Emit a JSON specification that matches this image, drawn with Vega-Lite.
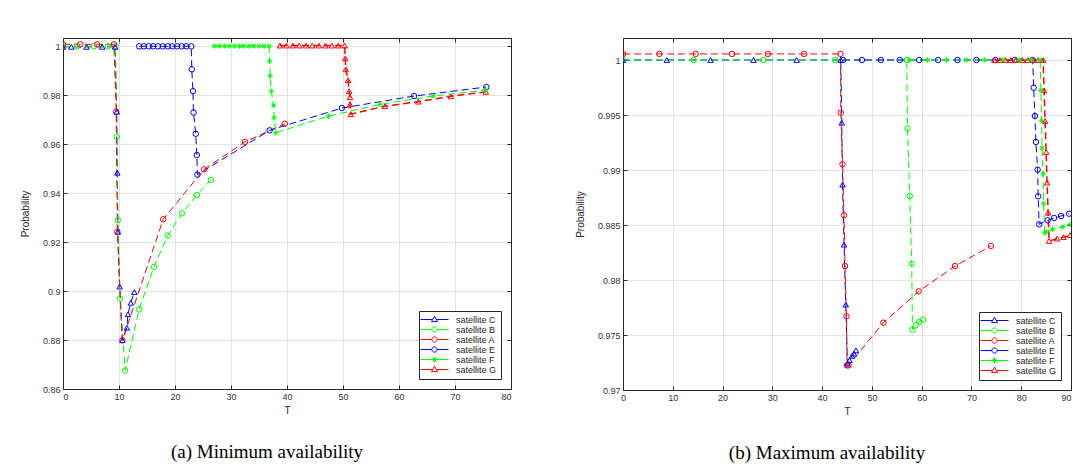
{
  "$schema": "https://vega.github.io/schema/vega-lite/v6.json",
  "background": "white",
  "padding": {"left": 19, "top": 37, "right": 0, "bottom": 0},
  "spacing": 62,
  "config": {
    "view": {"stroke": "#262626", "strokeWidth": 1},
    "axis": {"gridColor": "#e2e2e2", "gridWidth": 1, "domainColor": "#262626", "tickColor": "#262626", "tickSize": -4, "labelFont": "Liberation Sans", "labelFontSize": 9, "labelColor": "#333333", "titleFont": "Liberation Sans", "titleFontSize": 10, "titleFontWeight": "normal", "titleColor": "#262626"},
    "legend": {"title": null, "orient": "bottom-right", "offset": 10, "padding": 4, "strokeColor": "#262626", "fillColor": "#ffffff", "labelFont": "Liberation Sans", "labelFontSize": 9, "labelColor": "#262626", "symbolSize": 49, "symbolOffset": 7, "labelOffset": 17, "rowPadding": -1, "symbolStrokeWidth": 1, "symbolFillColor": "transparent"},
    "point": {"opacity": 1, "filled": false, "strokeWidth": 1},
    "title": {"font": "Liberation Serif", "fontSize": 19, "fontWeight": "normal", "color": "#000000", "orient": "bottom", "anchor": "middle", "offset": 28}
  },
  "datasets": {
    "a": [
      {"s":"C","i":0,"T":0,"P":0.9997},{"s":"C","i":1,"T":1.5,"P":0.9997},{"s":"C","i":2,"T":4.2,"P":0.9997},{"s":"C","i":3,"T":7,"P":0.9997},{"s":"C","i":4,"T":9.3,"P":0.9997},{"s":"C","i":5,"T":9.6,"P":0.9732},{"s":"C","i":6,"T":9.7,"P":0.9483},{"s":"C","i":7,"T":9.8,"P":0.9242},{"s":"C","i":8,"T":10.1,"P":0.9018},{"s":"C","i":9,"T":10.6,"P":0.8799},{"s":"C","i":10,"T":11.4,"P":0.885},{"s":"C","i":11,"T":11.6,"P":0.8905},{"s":"C","i":12,"T":12.1,"P":0.8952},{"s":"C","i":13,"T":12.75,"P":0.8996},
      {"s":"B","i":20,"T":0,"P":0.9999},{"s":"B","i":21,"T":2.5,"P":0.9999},{"s":"B","i":22,"T":5.5,"P":0.9999},{"s":"B","i":23,"T":8,"P":0.9999},{"s":"B","i":24,"T":9.4,"P":0.9999},{"s":"B","i":25,"T":9.6,"P":0.9629},{"s":"B","i":26,"T":9.8,"P":0.9289},{"s":"B","i":27,"T":10.2,"P":0.897},{"s":"B","i":28,"T":11.1,"P":0.8676},{"s":"B","i":29,"T":13.6,"P":0.8925},{"s":"B","i":30,"T":16.25,"P":0.9099},{"s":"B","i":31,"T":18.7,"P":0.9226},{"s":"B","i":32,"T":21.25,"P":0.9317},{"s":"B","i":33,"T":23.9,"P":0.9392},{"s":"B","i":34,"T":26.4,"P":0.9453},
      {"s":"A","i":40,"T":0,"P":1.0007},{"s":"A","i":41,"T":3.1,"P":1.0007},{"s":"A","i":42,"T":6.1,"P":1.0007},{"s":"A","i":43,"T":9.1,"P":1.0007},{"s":"A","i":44,"T":9.5,"P":0.9732},{"s":"A","i":45,"T":9.7,"P":0.9242},{"s":"A","i":46,"T":10.6,"P":0.8799},{"s":"A","i":47,"T":17.9,"P":0.9293},{"s":"A","i":48,"T":25.2,"P":0.9497},{"s":"A","i":49,"T":32.5,"P":0.9609},{"s":"A","i":50,"T":39.6,"P":0.9683},
      {"s":"E","i":60,"T":13.6,"P":0.9999},{"s":"E","i":61,"T":14.45,"P":0.9999},{"s":"E","i":62,"T":15.3,"P":0.9999},{"s":"E","i":63,"T":16.1,"P":0.9999},{"s":"E","i":64,"T":16.95,"P":0.9999},{"s":"E","i":65,"T":17.8,"P":0.9999},{"s":"E","i":66,"T":18.7,"P":0.9999},{"s":"E","i":67,"T":19.5,"P":0.9999},{"s":"E","i":68,"T":20.4,"P":0.9999},{"s":"E","i":69,"T":21.2,"P":0.9999},{"s":"E","i":70,"T":22.0,"P":0.9999},{"s":"E","i":71,"T":22.9,"P":0.9999},{"s":"E","i":72,"T":23.0,"P":0.9905},{"s":"E","i":73,"T":23.2,"P":0.9816},{"s":"E","i":74,"T":23.3,"P":0.9729},{"s":"E","i":75,"T":23.7,"P":0.9642},{"s":"E","i":76,"T":23.9,"P":0.9555},{"s":"E","i":77,"T":24.0,"P":0.9475},{"s":"E","i":78,"T":36.9,"P":0.9656},{"s":"E","i":79,"T":49.8,"P":0.9747},{"s":"E","i":80,"T":62.7,"P":0.9796},{"s":"E","i":81,"T":75.6,"P":0.9833},
      {"s":"F","i":90,"T":27,"P":1.0},{"s":"F","i":91,"T":27.9,"P":1.0},{"s":"F","i":92,"T":28.8,"P":1.0},{"s":"F","i":93,"T":29.7,"P":1.0},{"s":"F","i":94,"T":30.6,"P":1.0},{"s":"F","i":95,"T":31.5,"P":1.0},{"s":"F","i":96,"T":32.3,"P":1.0},{"s":"F","i":97,"T":33.2,"P":1.0},{"s":"F","i":98,"T":34.1,"P":1.0},{"s":"F","i":99,"T":35.0,"P":1.0},{"s":"F","i":100,"T":35.9,"P":1.0},{"s":"F","i":101,"T":36.8,"P":1.0},{"s":"F","i":102,"T":36.9,"P":0.9939},{"s":"F","i":103,"T":37.0,"P":0.9878},{"s":"F","i":104,"T":37.2,"P":0.9816},{"s":"F","i":105,"T":37.6,"P":0.9758},{"s":"F","i":106,"T":37.7,"P":0.9707},{"s":"F","i":107,"T":38.0,"P":0.9646},{"s":"F","i":108,"T":47.4,"P":0.9714},{"s":"F","i":109,"T":56.6,"P":0.9762},{"s":"F","i":110,"T":66.1,"P":0.9796},{"s":"F","i":111,"T":75.4,"P":0.982},
      {"s":"G","i":120,"T":38.75,"P":1.0002},{"s":"G","i":121,"T":39.9,"P":1.0002},{"s":"G","i":122,"T":41.05,"P":1.0002},{"s":"G","i":123,"T":42.2,"P":1.0002},{"s":"G","i":124,"T":43.4,"P":1.0002},{"s":"G","i":125,"T":44.5,"P":1.0002},{"s":"G","i":126,"T":45.7,"P":1.0002},{"s":"G","i":127,"T":46.85,"P":1.0002},{"s":"G","i":128,"T":48.0,"P":1.0002},{"s":"G","i":129,"T":49.15,"P":1.0002},{"s":"G","i":130,"T":50.3,"P":1.0002},{"s":"G","i":131,"T":50.4,"P":0.995},{"s":"G","i":132,"T":50.5,"P":0.9905},{"s":"G","i":133,"T":50.9,"P":0.9861},{"s":"G","i":134,"T":51.1,"P":0.9816},{"s":"G","i":135,"T":51.25,"P":0.9792},{"s":"G","i":136,"T":51.25,"P":0.9762},{"s":"G","i":137,"T":51.4,"P":0.9722},{"s":"G","i":138,"T":57.5,"P":0.9755},{"s":"G","i":139,"T":63.45,"P":0.9773},{"s":"G","i":140,"T":69.3,"P":0.9795},{"s":"G","i":141,"T":75.5,"P":0.9813}
    ],
    "b": [
      {"s":"C","i":0,"T":0,"P":1.0},{"s":"C","i":1,"T":8.8,"P":1.0},{"s":"C","i":2,"T":17.6,"P":1.0},{"s":"C","i":3,"T":26.2,"P":1.0},{"s":"C","i":4,"T":34.9,"P":1.0},{"s":"C","i":5,"T":43.75,"P":1.0},{"s":"C","i":6,"T":43.95,"P":0.9943},{"s":"C","i":7,"T":44.1,"P":0.98867},{"s":"C","i":8,"T":44.4,"P":0.98321},{"s":"C","i":9,"T":44.75,"P":0.97776},{"s":"C","i":10,"T":45.1,"P":0.9724},{"s":"C","i":11,"T":45.5,"P":0.9727},{"s":"C","i":12,"T":46.0,"P":0.9731},{"s":"C","i":13,"T":46.4,"P":0.9733},{"s":"C","i":14,"T":46.8,"P":0.9736},
      {"s":"B","i":20,"T":0,"P":1.0},{"s":"B","i":21,"T":14.2,"P":1.0},{"s":"B","i":22,"T":28.2,"P":1.0},{"s":"B","i":23,"T":42.6,"P":1.0},{"s":"B","i":24,"T":57.0,"P":1.0},{"s":"B","i":25,"T":57.15,"P":0.99376},{"s":"B","i":26,"T":57.6,"P":0.98764},{"s":"B","i":27,"T":58.0,"P":0.98148},{"s":"B","i":28,"T":58.15,"P":0.97548},{"s":"B","i":29,"T":58.8,"P":0.97588},{"s":"B","i":30,"T":59.5,"P":0.97618},{"s":"B","i":31,"T":60.3,"P":0.97639},
      {"s":"A","i":40,"T":0,"P":1.00055},{"s":"A","i":41,"T":7.3,"P":1.00055},{"s":"A","i":42,"T":14.6,"P":1.00055},{"s":"A","i":43,"T":21.9,"P":1.00055},{"s":"A","i":44,"T":29.1,"P":1.00055},{"s":"A","i":45,"T":36.4,"P":1.00055},{"s":"A","i":46,"T":43.7,"P":1.00055},{"s":"A","i":47,"T":43.75,"P":0.99521},{"s":"A","i":48,"T":44.1,"P":0.99052},{"s":"A","i":49,"T":44.4,"P":0.98588},{"s":"A","i":50,"T":44.6,"P":0.98127},{"s":"A","i":51,"T":44.9,"P":0.9767},{"s":"A","i":52,"T":45.0,"P":0.97224},{"s":"A","i":53,"T":45.3,"P":0.97224},{"s":"A","i":54,"T":52.3,"P":0.97612},{"s":"A","i":55,"T":59.4,"P":0.97897},{"s":"A","i":56,"T":66.7,"P":0.98127},{"s":"A","i":57,"T":73.9,"P":0.98309},
      {"s":"E","i":60,"T":44.2,"P":1.0},{"s":"E","i":61,"T":48.0,"P":1.0},{"s":"E","i":62,"T":51.8,"P":1.0},{"s":"E","i":63,"T":55.6,"P":1.0},{"s":"E","i":64,"T":59.5,"P":1.0},{"s":"E","i":65,"T":63.3,"P":1.0},{"s":"E","i":66,"T":67.2,"P":1.0},{"s":"E","i":67,"T":71.0,"P":1.0},{"s":"E","i":68,"T":74.8,"P":1.0},{"s":"E","i":69,"T":78.7,"P":1.0},{"s":"E","i":70,"T":82.3,"P":1.0},{"s":"E","i":71,"T":82.5,"P":0.99748},{"s":"E","i":72,"T":82.75,"P":0.99491},{"s":"E","i":73,"T":82.95,"P":0.99255},{"s":"E","i":74,"T":83.3,"P":0.99003},{"s":"E","i":75,"T":83.4,"P":0.98761},{"s":"E","i":76,"T":83.6,"P":0.98506},{"s":"E","i":77,"T":85.3,"P":0.98543},{"s":"E","i":78,"T":86.6,"P":0.98564},{"s":"E","i":79,"T":88.0,"P":0.98582},{"s":"E","i":80,"T":89.6,"P":0.98603},
      {"s":"F","i":90,"T":57.5,"P":1.0},{"s":"F","i":91,"T":61.2,"P":1.0},{"s":"F","i":92,"T":65.0,"P":1.0},{"s":"F","i":93,"T":68.9,"P":1.0},{"s":"F","i":94,"T":72.6,"P":1.0},{"s":"F","i":95,"T":76.3,"P":1.0},{"s":"F","i":96,"T":79.6,"P":1.0},{"s":"F","i":97,"T":82.0,"P":1.0},{"s":"F","i":98,"T":83.8,"P":1.0},{"s":"F","i":99,"T":83.95,"P":0.99724},{"s":"F","i":100,"T":84.1,"P":0.9945},{"s":"F","i":101,"T":84.2,"P":0.992},{"s":"F","i":102,"T":84.4,"P":0.98966},{"s":"F","i":103,"T":84.5,"P":0.98694},{"s":"F","i":104,"T":84.7,"P":0.98427},{"s":"F","i":105,"T":85.0,"P":0.98436},{"s":"F","i":106,"T":86.3,"P":0.98461},{"s":"F","i":107,"T":88.3,"P":0.98482},{"s":"F","i":108,"T":89.8,"P":0.98505},
      {"s":"G","i":120,"T":74.6,"P":1.0},{"s":"G","i":121,"T":75.7,"P":1.0},{"s":"G","i":122,"T":76.8,"P":1.0},{"s":"G","i":123,"T":77.9,"P":1.0},{"s":"G","i":124,"T":79.0,"P":1.0},{"s":"G","i":125,"T":80.2,"P":1.0},{"s":"G","i":126,"T":81.3,"P":1.0},{"s":"G","i":127,"T":82.4,"P":1.0},{"s":"G","i":128,"T":83.4,"P":1.0},{"s":"G","i":129,"T":84.4,"P":1.0},{"s":"G","i":130,"T":84.6,"P":0.99724},{"s":"G","i":131,"T":84.8,"P":0.99445},{"s":"G","i":132,"T":85.0,"P":0.99164},{"s":"G","i":133,"T":85.2,"P":0.98885},{"s":"G","i":134,"T":85.4,"P":0.98612},{"s":"G","i":135,"T":85.6,"P":0.98355},{"s":"G","i":136,"T":87.2,"P":0.98376},{"s":"G","i":137,"T":88.5,"P":0.9839},{"s":"G","i":138,"T":89.8,"P":0.98408}
    ]
  },
  "resolve": {"scale": {"color": "independent", "shape": "independent"}, "legend": {"color": "independent", "shape": "independent"}},
  "hconcat": [
    {
      "width": 448, "height": 351,
      "title": {"text": "(a) Minimum availability", "dx": -20},
      "data": {"name": "a"},
      "encoding": {
        "color": {"field": "s", "type": "nominal", "scale": {"domain": ["C","B","A","E","F","G"], "range": ["#0000ff","#00ff00","#ff0000","#0000ff","#00ff00","#ff0000"]}, "legend": {"labelExpr": "'satellite ' + datum.label"}},
        "order": {"field": "i", "type": "quantitative"}
      },
      "layer": [
        {
          "mark": {"type": "line", "strokeDash": [7, 4], "clip": true},
          "encoding": {
            "x": {"field": "T", "type": "quantitative", "scale": {"domain": [0, 80], "nice": false, "zero": false}, "axis": {"orient": "bottom", "values": [0,10,20,30,40,50,60,70,80], "labelPadding": 7, "title": "T", "titlePadding": 4, "grid": true}},
            "y": {"field": "P", "type": "quantitative", "scale": {"domain": [0.86, 1.0033], "nice": false, "zero": false}, "axis": {"orient": "left", "values": [0.86,0.88,0.9,0.92,0.94,0.96,0.98,1], "format": "~g", "labelPadding": 7, "title": "Probability", "titlePadding": 12, "grid": true}},
            "strokeWidth": {"condition": {"test": "datum.s === 'G'", "value": 1.5}, "value": 1}
          }
        },
        {
          "transform": [{"filter": "indexof(['B','A','E'], datum.s) >= 0"}],
          "mark": {"type": "point", "shape": "circle", "size": 30, "clip": true},
          "encoding": {
            "x": {"field": "T", "type": "quantitative", "axis": {"orient": "top", "values": [0,10,20,30,40,50,60,70,80], "labels": false, "grid": false, "title": null}},
            "y": {"field": "P", "type": "quantitative", "axis": {"orient": "right", "values": [0.86,0.88,0.9,0.92,0.94,0.96,0.98,1], "labels": false, "grid": false, "title": null}}
          }
        },
        {
          "transform": [{"filter": "datum.s === 'C' || datum.s === 'G'"}],
          "mark": {"type": "point", "shape": "triangle-up", "size": 30, "clip": true},
          "encoding": {
            "x": {"field": "T", "type": "quantitative", "axis": null},
            "y": {"field": "P", "type": "quantitative", "axis": null}
          }
        },
        {
          "transform": [{"filter": "datum.s === 'F'"}],
          "mark": {"type": "point", "shape": "M-1,0L1,0M0,-1L0,1M-0.7,-0.7L0.7,0.7M-0.7,0.7L0.7,-0.7", "size": 30, "clip": true},
          "encoding": {
            "x": {"field": "T", "type": "quantitative", "axis": null},
            "y": {"field": "P", "type": "quantitative", "axis": null}
          }
        },
        {
          "transform": [{"filter": "datum.i < 0"}],
          "mark": {"type": "point", "size": 49},
          "encoding": {
            "x": {"field": "T", "type": "quantitative", "axis": null},
            "y": {"field": "P", "type": "quantitative", "axis": null},
            "shape": {"field": "s", "type": "nominal", "legend": {"labelExpr": "'satellite ' + datum.label"}, "scale": {"domain": ["C","B","A","E","F","G"], "range": ["M-4,0L-0.52,0M0.52,0L4,0M0,-0.95L0.85,0.6L-0.85,0.6Z","M-4,0L-0.75,0M0.75,0L4,0M-0.75,0A0.75,0.75 0 1,0 0.75,0A0.75,0.75 0 1,0 -0.75,0","M-4,0L-0.75,0M0.75,0L4,0M-0.75,0A0.75,0.75 0 1,0 0.75,0A0.75,0.75 0 1,0 -0.75,0","M-4,0L-0.75,0M0.75,0L4,0M-0.75,0A0.75,0.75 0 1,0 0.75,0A0.75,0.75 0 1,0 -0.75,0","M-4,0L4,0M0,-0.85L0,0.85M-0.6,-0.6L0.6,0.6M-0.6,0.6L0.6,-0.6","M-4,0L-0.52,0M0.52,0L4,0M0,-0.95L0.85,0.6L-0.85,0.6Z"]}}
          }
        }
      ],
      "resolve": {"axis": {"x": "independent", "y": "independent"}}
    },
    {
      "width": 448, "height": 352,
      "title": {"text": "(b) Maximum availability", "dx": -20},
      "data": {"name": "b"},
      "encoding": {
        "color": {"field": "s", "type": "nominal", "scale": {"domain": ["C","B","A","E","F","G"], "range": ["#0000ff","#00ff00","#ff0000","#0000ff","#00ff00","#ff0000"]}, "legend": {"labelExpr": "'satellite ' + datum.label"}},
        "order": {"field": "i", "type": "quantitative"}
      },
      "layer": [
        {
          "mark": {"type": "line", "strokeDash": [7, 4], "clip": true},
          "encoding": {
            "x": {"field": "T", "type": "quantitative", "scale": {"domain": [0, 90], "nice": false, "zero": false}, "axis": {"orient": "bottom", "values": [0,10,20,30,40,50,60,70,80,90], "labelPadding": 7, "labelAlign": {"condition": {"test": "datum.value == 90", "value": "right"}, "value": "center"}, "title": "T", "titlePadding": 4, "grid": true}},
            "y": {"field": "P", "type": "quantitative", "scale": {"domain": [0.97, 1.002], "nice": false, "zero": false}, "axis": {"orient": "left", "values": [0.97,0.975,0.98,0.985,0.99,0.995,1], "format": "~g", "labelPadding": 7, "title": "Probability", "titlePadding": 12, "grid": true}},
            "strokeWidth": {"condition": {"test": "datum.s === 'G'", "value": 1.5}, "value": 1}
          }
        },
        {
          "transform": [{"filter": "indexof(['B','A','E'], datum.s) >= 0"}],
          "mark": {"type": "point", "shape": "circle", "size": 30, "clip": true},
          "encoding": {
            "x": {"field": "T", "type": "quantitative", "axis": {"orient": "top", "values": [0,10,20,30,40,50,60,70,80,90], "labels": false, "grid": false, "title": null}},
            "y": {"field": "P", "type": "quantitative", "axis": {"orient": "right", "values": [0.97,0.975,0.98,0.985,0.99,0.995,1], "labels": false, "grid": false, "title": null}}
          }
        },
        {
          "transform": [{"filter": "datum.s === 'C' || datum.s === 'G'"}],
          "mark": {"type": "point", "shape": "triangle-up", "size": 30, "clip": true},
          "encoding": {
            "x": {"field": "T", "type": "quantitative", "axis": null},
            "y": {"field": "P", "type": "quantitative", "axis": null}
          }
        },
        {
          "transform": [{"filter": "datum.s === 'F'"}],
          "mark": {"type": "point", "shape": "M-1,0L1,0M0,-1L0,1M-0.7,-0.7L0.7,0.7M-0.7,0.7L0.7,-0.7", "size": 30, "clip": true},
          "encoding": {
            "x": {"field": "T", "type": "quantitative", "axis": null},
            "y": {"field": "P", "type": "quantitative", "axis": null}
          }
        },
        {
          "transform": [{"filter": "datum.i < 0"}],
          "mark": {"type": "point", "size": 49},
          "encoding": {
            "x": {"field": "T", "type": "quantitative", "axis": null},
            "y": {"field": "P", "type": "quantitative", "axis": null},
            "shape": {"field": "s", "type": "nominal", "legend": {"labelExpr": "'satellite ' + datum.label"}, "scale": {"domain": ["C","B","A","E","F","G"], "range": ["M-4,0L-0.52,0M0.52,0L4,0M0,-0.95L0.85,0.6L-0.85,0.6Z","M-4,0L-0.75,0M0.75,0L4,0M-0.75,0A0.75,0.75 0 1,0 0.75,0A0.75,0.75 0 1,0 -0.75,0","M-4,0L-0.75,0M0.75,0L4,0M-0.75,0A0.75,0.75 0 1,0 0.75,0A0.75,0.75 0 1,0 -0.75,0","M-4,0L-0.75,0M0.75,0L4,0M-0.75,0A0.75,0.75 0 1,0 0.75,0A0.75,0.75 0 1,0 -0.75,0","M-4,0L4,0M0,-0.85L0,0.85M-0.6,-0.6L0.6,0.6M-0.6,0.6L0.6,-0.6","M-4,0L-0.52,0M0.52,0L4,0M0,-0.95L0.85,0.6L-0.85,0.6Z"]}}
          }
        }
      ],
      "resolve": {"axis": {"x": "independent", "y": "independent"}}
    }
  ]
}
